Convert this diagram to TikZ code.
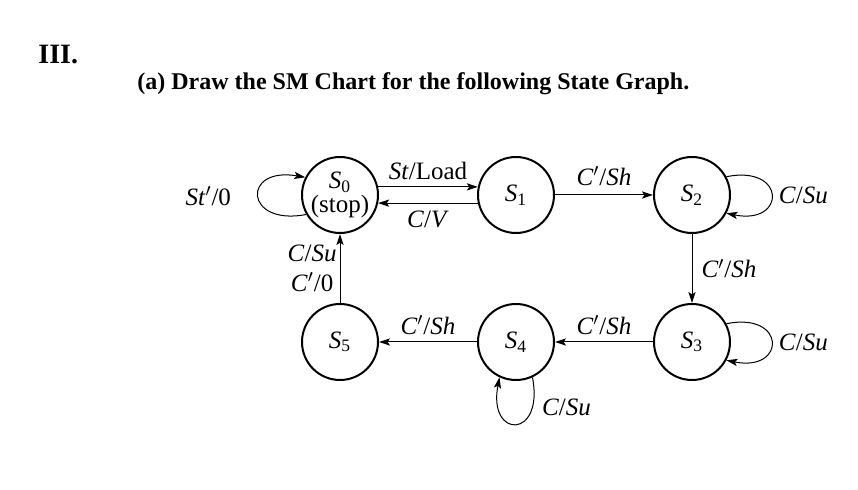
\documentclass[tikz,border=0pt]{standalone}
\usepackage{fontspec}
\setmainfont{Liberation Serif}
\usetikzlibrary{arrows.meta}
\tikzset{
	state/.style={circle, draw, line width=1pt, minimum size=38pt, inner sep=0pt, align=center, font=\fontsize{12.5}{12}\selectfont},
	wire/.style={line width=0.5pt, -{Stealth[length=5.5pt, width=3.6pt, inset=1.2pt]}},
	lbl/.style={font=\fontsize{12.5}{14}\selectfont, inner sep=1.5pt},
}
\newcommand{\st}[1]{\textit{S}\textsubscript{#1}}
\newcommand{\np}[1]{\textit{#1}$'$}

\begin{document}
\begin{tikzpicture}[x=0.5pt, y=-0.5pt]
	\useasboundingbox (0,0) rectangle (858,490);
	% Headings:
	\node[anchor=base west, inner sep=0pt, font=\bfseries\fontsize{14}{16}\selectfont] (num) at (38,64) {III.};
	\node[anchor=base west, inner sep=0pt, font=\bfseries\fontsize{12}{14}\selectfont] (title) at (137,90) {(a) Draw the SM Chart for the following State Graph.};
	% States:
	\node[state] (s0) at (340,195) {\st{0}\\(stop)};
	\node[state] (s1) at (516,195) {\st{1}};
	\node[state] (s2) at (692,195) {\st{2}};
	\node[state] (s3) at (692,342) {\st{3}};
	\node[state] (s4) at (516,342) {\st{4}};
	\node[state] (s5) at (340,342) {\st{5}};
	% Transitions:
	\draw[wire] (s0.12) -- (s1.168) node[lbl, midway, above=2pt] (l01) {\textit{St}/Load};
	\draw[wire] (s1.192) -- (s0.348) node[lbl, midway, below=2pt] (l10) {\textit{C}/\textit{V}};
	\draw[wire] (s1) -- (s2) node[lbl, midway, above=3pt] (l12) {\np{C}/\textit{Sh}};
	\draw[wire] (s2) -- (s3) node[lbl, midway, right=3pt] (l23) {\np{C}/\textit{Sh}};
	\draw[wire] (s3) -- (s4) node[lbl, midway, above=2pt] (l34) {\np{C}/\textit{Sh}};
	\draw[wire] (s4) -- (s5) node[lbl, midway, above=2pt] (l45) {\np{C}/\textit{Sh}};
	\draw[wire] (s5) -- (s0) node[lbl, midway, left, align=center] (l50) {\textit{C}/\textit{Su}\\[1pt]\np{C}/0};
	% Self loops:
	\draw[wire] (s0.210) .. controls +(-62,12) and +(-64,-11) .. (s0.153) node[lbl, pos=0.5, left=12pt] (l00) {\textit{St}$'$/0};
	\draw[wire] (s2.28) .. controls +(60,-12) and +(60,12) .. (s2.332) node[lbl, pos=0.5, right=2pt] (l22) {\textit{C}/\textit{Su}};
	\draw[wire] (s3.28) .. controls +(60,-12) and +(60,12) .. (s3.332) node[lbl, pos=0.5, right=2pt] (l33) {\textit{C}/\textit{Su}};
	\draw[wire] (s4.295) .. controls +(12,62) and +(-12,62) .. (s4.245) node[lbl, pos=0.2, right=3pt] (l44) {\textit{C}/\textit{Su}};
\end{tikzpicture}
\end{document}
